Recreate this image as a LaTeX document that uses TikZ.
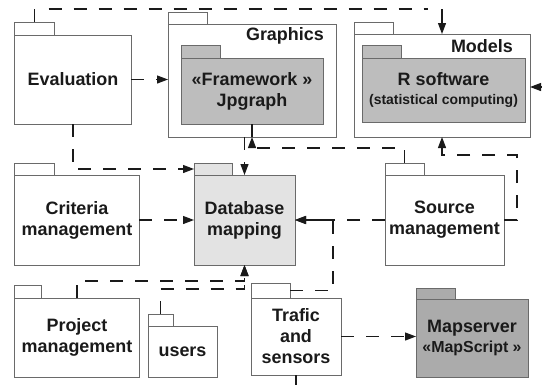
\documentclass[tikz,border=0pt]{standalone}
\usepackage{fontspec}
\setmainfont{Liberation Sans}
\usetikzlibrary{arrows.meta,calc}
\definecolor{boxline}{HTML}{6A6A6A}
\definecolor{midgray}{HTML}{BDBDBD}
\definecolor{lightfill}{HTML}{E3E3E3}
\definecolor{darkfill}{HTML}{ABABAB}
\definecolor{ink}{HTML}{1A1A1A}
\begin{document}
\begin{tikzpicture}[x=1bp,y=-1bp,
  pkg/.style={draw=boxline, line width=1bp, fill=white, inner sep=0pt, outer sep=0pt,
    align=center, text=ink, font=\fontsize{18}{21}\selectfont\bfseries},
  tab/.style={draw=boxline, line width=1bp, fill=white, inner sep=0pt, outer sep=0pt,
    anchor=south west, minimum height=13bp},
  lbl/.style={inner sep=0pt, text=ink, font=\fontsize{18}{21}\selectfont\bfseries},
  dep/.style={draw=ink, line width=1.2bp, dash pattern=on 13bp off 12bp,
    -{Triangle[length=11bp,width=8bp]}},
  arr/.style={draw=ink, line width=1.2bp, -{Triangle[length=11bp,width=8bp]}},
  link/.style={draw=ink, line width=1.2bp}]
\useasboundingbox (0,0) rectangle (542,385);
\fill[white] (0,0) rectangle (542,385);

% Evaluation
\node[pkg, minimum width=116bp, minimum height=89bp] (eval) at (73,79.5) {Evaluation};
\node[tab, minimum width=39bp] (evalT) at (eval.north west) {};

% Graphics
\node[pkg, minimum width=168bp, minimum height=113bp] (graphics) at (252,80.5) {};
\node[tab, minimum width=39bp, minimum height=12bp] (graphicsT) at (graphics.north west) {};
\node[lbl, anchor=east] (graphicsL) at (324,36) {Graphics};
\node[pkg, fill=midgray, minimum width=142bp, minimum height=66bp] (fw) at (252,91) {«Framework »\\Jpgraph};
\node[tab, fill=midgray, minimum width=39bp] (fwT) at (fw.north west) {};

% Models
\node[pkg, minimum width=176bp, minimum height=103bp] (models) at (442,85.5) {};
\node[tab, minimum width=39bp, minimum height=12bp] (modelsT) at (models.north west) {};
\node[lbl, anchor=east] (modelsL) at (513,46) {Models};
\node[pkg, fill=midgray, minimum width=163bp, minimum height=64bp] (rsw) at (443.5,90) {R software\\[-2bp]{\fontsize{14}{17}\selectfont (statistical computing)}};
\node[tab, fill=midgray, minimum width=39bp] (rswT) at (rsw.north west) {};

% Criteria management
\node[pkg, minimum width=124bp, minimum height=90bp] (crit) at (77,220) {Criteria\\management};
\node[tab, minimum width=39bp, minimum height=12bp] (critT) at (crit.north west) {};

% Database mapping
\node[pkg, fill=lightfill, minimum width=101bp, minimum height=90bp] (db) at (244.5,220) {Database\\mapping};
\node[tab, fill=lightfill, minimum width=38bp, minimum height=12bp] (dbT) at (db.north west) {};

% Source management
\node[pkg, minimum width=119bp, minimum height=90bp] (src) at (444.5,220) {Source\\management};
\node[tab, minimum width=39bp, minimum height=12bp] (srcT) at (src.north west) {};

% Project management
\node[pkg, minimum width=124bp, minimum height=79bp] (proj) at (77,337.5) {Project\\management};
\node[tab, minimum width=26bp] (projT) at (proj.north west) {};

% users
\node[pkg, minimum width=69bp, minimum height=51bp] (users) at (182.5,351.5) {users};
\node[tab, minimum width=25bp, minimum height=12bp] (usersT) at (users.north west) {};

% Trafic and sensors
\node[pkg, minimum width=90bp, minimum height=77bp] (tr) at (296,336.5) {Trafic\\and\\sensors};
\node[tab, minimum width=39bp, minimum height=15bp] (trT) at (tr.north west) {};

% Mapserver
\node[pkg, fill=darkfill, minimum width=112bp, minimum height=78bp] (map) at (472,338) {Mapserver\\{\fontsize{16}{19}\selectfont «MapScript »}};
\node[tab, fill=darkfill, minimum width=39bp, minimum height=11bp] (mapT) at (map.north west) {};

% helper coordinates
\coordinate (topline) at (0,9);
\coordinate (midline) at (0,148);
\coordinate (lowline) at (0,155);
\coordinate (rightline) at (517,0);
\coordinate (edgeR) at (542,87);
\coordinate (trline) at (333,0);
\coordinate (pline) at (0,281);
\coordinate (uline) at (0,289);
\coordinate (bottomE) at (296,385);

% Evaluation -> Models (top)
\draw[link] (evalT.north) -- (evalT.north |- topline);
\draw[dep,-] ($(evalT.north |- topline)+(14,0)$) -- ($(models.north |- topline)+(-14,0)$);
\draw[arr] (models.north |- topline) -- (models.north);

% Evaluation -> Graphics
\draw[dep] (eval.east) -- (eval.east -| graphics.west);
% Evaluation -> Database
\draw[dep] (eval.south) |- (dbT.west);
% Graphics -> Database
\draw[dep] (graphics.south -| db.north) -- (db.north);
% Source -> Jpgraph
\draw[dep] (srcT.north) |- (graphics.south |- midline) -- (graphics.south);
\draw[link] (fw.south) -- (graphics.south);
% Source -> Models
\draw[dep] (src.east) -| (rightline |- lowline) -- (models.south |- lowline) -- (models.south);
% into Models from right
\draw[arr] (edgeR) -- (models.east |- edgeR);
% Criteria -> Database
\draw[dep] (crit.east) -- (db.west);
% Source -> Database
\draw[dep] (src.west) -- (db.east);
% Trafic -> Database
\draw[dep] (trT.east) -| (trline |- db.east) -- (db.east);
% Project -> Database
\draw[dep] (proj.north) |- (db.south |- pline) -- (db.south);
% users -> Database
\draw[dep] (usersT.north) |- (db.south |- uline) -- (db.south);
% Trafic -> Mapserver
\draw[dep] (tr.east) -- (tr.east -| map.west);
% Trafic bottom stub
\draw[link] (tr.south) -- (bottomE);
\end{tikzpicture}
\end{document}
